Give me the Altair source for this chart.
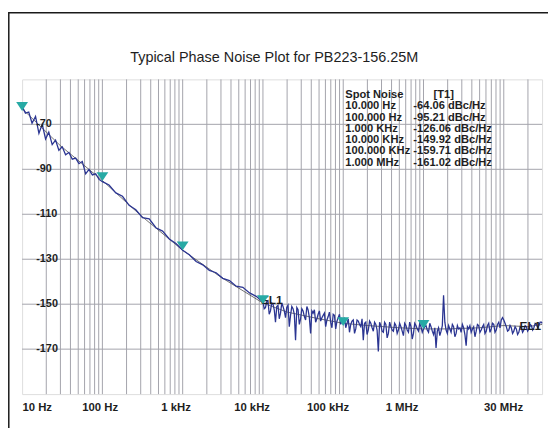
import altair as alt
import pandas as pd

# ---------------- data ----------------
# measured trace (frequency in Hz, level in dBc/Hz), main sweep points
trace_freq = [
    10, 11.0, 12.1, 13.3, 14.7, 16.2, 17.8, 19.6, 21.5, 23.7, 26.1, 28.7,
    31.6, 34.8, 38.3, 42.2, 46.4, 51.1, 56.2, 61.9, 68.1, 75.0, 82.5, 90.9,
    100, 121, 147, 178, 215, 261, 316, 383, 464, 562, 681, 825,
    1000, 1210, 1470, 1780, 2150, 2610, 3160, 3830, 4640, 5620, 6810, 8250,
    10000, 10750, 11550, 12410, 13340, 14330, 15400, 16550, 17780, 19110, 20540, 22070,
    23710, 25480, 27380, 29430, 31620, 33980, 36520, 39240, 42170, 45320, 48700, 52330,
    56230, 60430, 64940, 69780, 74990, 80580, 86600, 93060,
    100000, 107500, 115500, 124100, 133400, 143300, 154000, 165500, 177800, 191100, 205400, 220700,
    237100, 254800, 273800, 294300, 316200, 339800, 365200, 392400, 421700, 453200, 487000, 523300,
    562300, 604300, 649400, 697800, 749900, 805800, 866000, 930600,
    1.0e6, 1.075e6, 1.155e6, 1.241e6, 1.334e6, 1.433e6, 1.54e6, 1.655e6, 1.778e6, 1.911e6, 2.054e6, 2.207e6,
    2.371e6, 2.548e6, 2.738e6, 2.943e6, 3.162e6, 3.398e6, 3.652e6, 3.924e6, 4.217e6, 4.532e6, 4.87e6, 5.233e6,
    5.623e6, 6.043e6, 6.494e6, 6.978e6, 7.499e6, 8.058e6, 8.66e6, 9.306e6,
    1.0e7, 1.075e7, 1.155e7, 1.241e7, 1.334e7, 1.433e7, 1.54e7, 1.655e7, 1.778e7, 1.911e7, 2.054e7, 2.207e7,
    2.371e7, 2.548e7, 2.738e7, 2.943e7, 3.0e7,
]
trace_db = [
    -62.0, -65.0, -64.5, -69.5, -66.5, -74.0, -70.0, -76.5, -73.5, -79.0, -77.0, -81.5,
    -80.0, -83.5, -82.5, -85.5, -85.0, -87.5, -86.5, -92.0, -90.0, -92.5, -92.0, -94.5,
    -95.5, -97.0, -100.5, -102.0, -106.0, -108.0, -111.5, -112.0, -116.0, -117.5, -121.0, -123.0,
    -126.0, -128.0, -131.0, -132.5, -135.0, -136.0, -138.5, -139.5, -142.0, -142.5, -145.0, -146.5,
    -149.0, -151.5, -148.5, -153.0, -150.0, -158.0, -150.5, -154.0, -151.0, -156.0, -150.5, -155.0,
    -152.0, -166.0, -152.5, -156.5, -153.0, -157.0, -152.5, -163.0, -154.0, -158.0, -154.5, -157.5,
    -155.0, -160.0, -155.5, -158.0, -154.5, -161.0, -156.0, -159.0,
    -157.5, -160.5, -156.5, -159.0, -157.0, -161.0, -157.5, -160.0, -166.0, -158.0, -161.5, -158.5,
    -162.0, -159.0, -171.0, -159.5, -162.5, -159.0, -163.0, -160.0, -162.0, -159.5, -161.5, -160.0,
    -164.0, -159.5, -162.5, -160.0, -163.0, -159.5, -162.0, -160.0,
    -161.0, -159.5, -162.5, -160.0, -163.5, -169.5, -160.5, -162.0, -146.0, -161.5, -159.5, -162.5,
    -160.0, -163.0, -161.0, -162.5, -160.5, -168.5, -161.0, -162.5, -160.0, -162.0, -159.5, -161.5,
    -159.0, -162.0, -158.5, -161.0, -159.0, -161.5, -158.0, -157.0,
    -157.0, -160.0, -161.5, -160.5, -162.0, -161.0, -162.5, -160.5, -161.5, -160.0, -161.0, -159.5,
    -160.5, -159.0, -159.5, -158.0, -158.5,
]
# in-between sweep points of the noisy part (10 kHz .. 30 MHz)
trace_freq_mid = [
    10370, 11140, 11970, 12870, 13830, 14860, 15970, 17160, 18440, 19810, 21290, 22880,
    24590, 26420, 28390, 30510, 32790, 35240, 37870, 40690, 43730, 46990, 50500, 54260,
    58310, 62660, 67340, 72360, 77760, 83560, 89800, 96500,
    103700, 111400, 119700, 128700, 138300, 148600, 159700, 171600, 184400, 198100, 212900, 228800,
    245900, 264200, 283900, 305100, 327900, 352400, 378700, 406900, 437300, 469900, 505000, 542600,
    583100, 626600, 673400, 723600, 777600, 835600, 898000, 965000,
    1.037e6, 1.114e6, 1.197e6, 1.287e6, 1.383e6, 1.486e6, 1.597e6, 1.716e6, 1.844e6, 1.981e6, 2.129e6, 2.288e6,
    2.459e6, 2.642e6, 2.839e6, 3.051e6, 3.279e6, 3.524e6, 3.787e6, 4.069e6, 4.373e6, 4.699e6, 5.05e6, 5.426e6,
    5.831e6, 6.266e6, 6.734e6, 7.236e6, 7.776e6, 8.356e6, 8.98e6, 9.65e6,
    1.037e7, 1.114e7, 1.197e7, 1.287e7, 1.383e7, 1.486e7, 1.597e7, 1.716e7, 1.844e7, 1.981e7, 2.129e7, 2.288e7,
    2.459e7, 2.642e7, 2.839e7,
]
trace_db_mid = [
    -152.0, -149.0, -154.5, -149.5, -152.5, -151.0, -156.5, -149.5, -153.0, -151.5, -160.0, -151.0,
    -154.5, -151.5, -159.0, -152.0, -155.5, -151.0, -156.0, -153.0, -152.5, -156.5, -153.0, -156.0,
    -154.0, -157.0, -153.5, -160.5, -155.0, -157.5, -154.5, -156.5,
    -156.0, -158.5, -162.5, -157.5, -163.0, -157.0, -159.0, -156.5, -158.5, -163.5, -157.5, -160.5,
    -158.0, -161.5, -158.0, -162.0, -158.0, -165.0, -158.0, -161.5, -158.5, -163.0, -158.5, -162.0,
    -158.5, -161.5, -158.0, -165.5, -158.5, -161.0, -158.5, -162.5,
    -160.0, -161.5, -158.5, -162.0, -160.5, -162.0, -164.0, -159.5, -158.0, -163.0, -161.0, -159.0,
    -164.5, -159.5, -160.5, -159.0, -163.5, -160.0, -159.5, -161.0, -164.5, -159.0, -162.5, -160.0,
    -163.0, -159.5, -162.5, -158.5, -162.5, -159.0, -160.5, -156.0,
    -158.5, -162.0, -159.5, -163.0, -160.0, -163.5, -160.0, -162.5, -159.5, -162.0, -159.0, -161.5,
    -158.5, -160.5, -158.0,
]

# thin dark averaged trace
avg_freq = [10, 30, 100, 300, 1000, 3000, 10000, 20000, 50000, 100000, 200000,
            500000, 1e6, 2e6, 5e6, 1e7, 2e7, 3e7]
avg_db = [-63, -79.5, -95, -110.5, -126, -138, -149.5, -153.5, -156.5, -158.5, -159.5,
          -160.5, -161, -161, -160.5, -159.5, -160, -159]

# spot-noise markers
marker_freq = [10, 100, 1000, 10000, 100000, 1000000]
marker_db = [-64.06, -95.21, -126.06, -149.92, -159.71, -161.02]

# axis labels: the analyser prints them evenly spaced, so each sits at the
# frequency where it appears in the picture
x_label_pos_hz = [15.2, 92.6, 818, 7220, 63800, 532000, 9800000]
x_tick_labels = ["10 Hz", "100 Hz", "1 kHz", "10 kHz", "100 kHz", "1 MHz", "30 MHz"]
x_grid = [20, 30, 40, 50, 60, 70, 80, 90,
          100, 200, 300, 400, 500, 600, 700, 800, 900,
          1000, 2000, 3000, 4000, 5000, 6000, 7000, 8000, 9000,
          10000, 20000, 30000, 40000, 50000, 60000, 70000, 80000, 90000,
          100000, 200000, 300000, 400000, 500000, 600000, 700000, 800000, 900000,
          1000000, 2000000, 3000000, 4000000, 5000000, 6000000, 7000000, 8000000, 9000000,
          10000000, 20000000]
y_tick_values = [-70, -90, -110, -130, -150, -170]
y_tick_labels = ["-70", "-90", "-110", "-130", "-150", "-170"]

# spot noise table
spot_header = ["Spot Noise", "[T1]"]
spot_offsets = ["10.000 Hz", "100.000 Hz", "1.000 KHz", "10.000 KHz", "100.000 KHz", "1.000 MHz"]
spot_levels = ["-64.06 dBc/Hz", "-95.21 dBc/Hz", "-126.06 dBc/Hz", "-149.92 dBc/Hz",
               "-159.71 dBc/Hz", "-161.02 dBc/Hz"]

# annotation anchor points (in data units)
table_col1 = (106000, -54.4)
table_hdr2 = (1790000, -54.4)
table_col2 = (747000, -59.4)
el1_labels = ["EL1", "EL1"]
el1_freq = [9450, 15700000]
el1_db = [-149.8, -161.3]

title_text = "Typical Phase Noise Plot for PB223-156.25M"

# ---------------- chart ----------------
W, H = 527, 319
FONT = "Liberation Sans"
GRID = "#a3a3ab"
TRACE = "#2b3592"
TEAL = "#27aaa5"
TXT = "#1e1e1e"

xs = alt.Scale(type="log", domain=[10, 30000000], nice=False)
ys = alt.Scale(domain=[-190, -50], nice=False, zero=False)

label_expr = " : ".join(
    f"datum.value == {v} ? '{t}'" for v, t in zip(x_label_pos_hz, x_tick_labels)
) + " : ''"

x_axis = alt.Axis(values=x_label_pos_hz, labelExpr=label_expr, title=None, grid=False,
                  ticks=False, tickSize=0, domain=False, labelFlush=False,
                  labelPadding=8, labelFontSize=11.5, labelFontWeight="bold",
                  labelColor=TXT, labelFont=FONT, labelOverlap=False)


def X(field="f"):
    return alt.X(f"{field}:Q", scale=xs, axis=x_axis)


def Y(field="db"):
    return alt.Y(f"{field}:Q", scale=ys, axis=None)


trace_df = pd.DataFrame({"f": trace_freq + trace_freq_mid, "db": trace_db + trace_db_mid})
trace_df = trace_df.sort_values("f").reset_index(drop=True)
trace_df["i"] = range(len(trace_df))
avg_df = pd.DataFrame({"f": avg_freq, "db": avg_db})
mk_df = pd.DataFrame({"f": marker_freq, "db": marker_db})
vgrid_df = pd.DataFrame({"f": x_grid})
hgrid_df = pd.DataFrame({"db": y_tick_values, "lab": y_tick_labels})

vgrid = alt.Chart(vgrid_df).mark_rule(color=GRID, strokeWidth=1).encode(x=X())
hgrid = alt.Chart(hgrid_df).mark_rule(color=GRID, strokeWidth=1).encode(y=Y())

avg_line = alt.Chart(avg_df).mark_line(color="#333333", strokeWidth=0.7).encode(x=X(), y=Y())
trace = alt.Chart(trace_df).mark_line(color=TRACE, strokeWidth=1.3).encode(
    x=X(), y=Y(), order="i:Q")

el1_df = pd.DataFrame({"f": el1_freq, "db": el1_db, "t": el1_labels})
el1 = alt.Chart(el1_df).mark_text(
    align="left", baseline="alphabetic", font=FONT, fontSize=12, fontWeight="bold", color=TXT
).encode(x=X(), y=Y(), text="t:N")

markers = alt.Chart(mk_df).mark_point(
    shape="M-1,-1.5L1,-1.5L0,0Z", size=144, filled=True, fill=TEAL,
    strokeWidth=0, opacity=1
).encode(x=X(), y=Y())

ylabels = alt.Chart(hgrid_df).mark_text(
    align="left", baseline="middle", font=FONT, fontSize=11, fontWeight="bold", color=TXT
).encode(x=alt.value(14.3), y=Y(), text="lab:N")

tbl_df = pd.DataFrame({
    "f": [table_col1[0], table_hdr2[0], table_col2[0]],
    "db": [table_col1[1], table_hdr2[1], table_col2[1]],
    "t": ["\n".join([spot_header[0]] + spot_offsets), spot_header[1], "\n".join(spot_levels)],
    "a": ["left", "center", "left"],
})
tbl_left = alt.Chart(tbl_df).transform_filter("datum.a == 'left'").mark_text(
    align="left", baseline="top", font=FONT, fontSize=11.3, fontWeight="bold", color=TXT,
    lineBreak="\n", lineHeight=11.4
).encode(x=X(), y=Y(), text="t:N")
tbl_center = alt.Chart(tbl_df).transform_filter("datum.a == 'center'").mark_text(
    align="center", baseline="top", font=FONT, fontSize=11.3, fontWeight="bold", color=TXT
).encode(x=X(), y=Y(), text="t:N")

# chart title, placed above the plot area
title = alt.Chart(pd.DataFrame({"t": [title_text]})).mark_text(
    align="center", baseline="alphabetic", font=FONT, fontSize=14.6, fontWeight="normal",
    color=TXT
).encode(x=alt.value(W / 2 - 8), y=alt.value(-17.5), text="t:N")

# outer picture frame
frame = alt.Chart(pd.DataFrame({"k": [0]})).mark_rect(
    fill="transparent", stroke="#1a1a1a", strokeWidth=1.5
).encode(x=alt.value(-13.5), x2=alt.value(W + 60), y=alt.value(-67.5), y2=alt.value(H + 80))

chart = alt.layer(
    vgrid, hgrid, avg_line, trace, el1, markers, ylabels, tbl_left, tbl_center, title, frame
).properties(
    width=W, height=H,
    autosize=alt.AutoSizeParams(type="none"),
    padding={"left": 14.3, "top": 69.5, "right": 6, "bottom": 31},
).configure_view(stroke=GRID, strokeWidth=1).configure(background="white")

chart.save("out.html", embed_options={"renderer": "svg", "actions": False})
